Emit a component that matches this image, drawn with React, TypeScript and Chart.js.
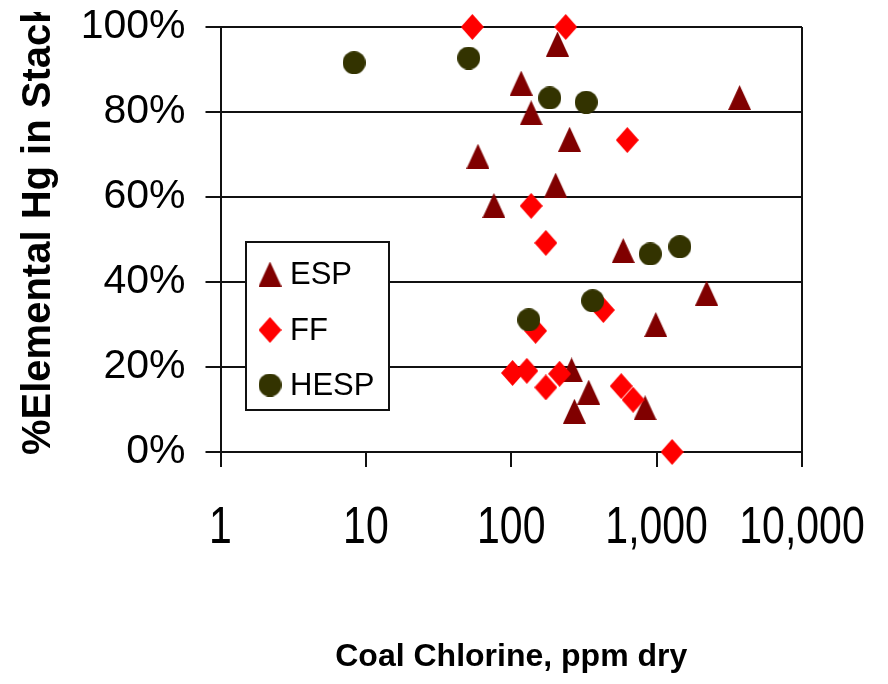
import React, { useEffect, useRef } from "react";
import { Chart, registerables } from "chart.js";

Chart.register(...registerables);

// ---------- data ----------
const seriesNames = ["ESP", "FF", "HESP"];
const seriesColors = ["#800000", "#ff0000", "#333300"];

const espChlorine = [208, 117, 137, 3720, 252, 59, 202, 76, 589, 2208, 987, 260, 341, 833, 272];
const espElemental = [96.0, 86.8, 79.8, 83.4, 73.6, 69.6, 62.8, 58.0, 47.4, 37.4, 30.0, 19.3, 14.1, 10.4, 9.6];

const ffChlorine = [54, 237, 628, 137, 173, 430, 147, 102, 128, 215, 173, 571, 689, 1278];
const ffElemental = [100, 100, 73.4, 57.9, 49.2, 33.4, 28.5, 18.6, 19.1, 18.4, 15.2, 15.5, 12.3, 0];

const hespChlorine = [8.3, 51, 184, 328, 904, 1445, 363, 132];
const hespElemental = [91.6, 92.7, 83.3, 82.3, 46.6, 48.3, 35.6, 31.1];

const xTickValues = [1, 10, 100, 1000, 10000];
const xTickLabels = ["1", "10", "100", "1,000", "10,000"];
const yTickValues = [0, 20, 40, 60, 80, 100];
const yTickLabels = ["0%", "20%", "40%", "60%", "80%", "100%"];

const xTitle = "Coal Chlorine, ppm dry";
const yTitle = "%Elemental Hg in Stack";

// ---------- helpers ----------
function makeMarker(shape: string, color: string, w: number, h: number): HTMLCanvasElement {
  const c = document.createElement("canvas");
  c.width = w;
  c.height = h;
  const g = c.getContext("2d")!;
  g.fillStyle = color;
  g.beginPath();
  if (shape === "triangle") {
    g.moveTo(w / 2, 0);
    g.lineTo(w, h);
    g.lineTo(0, h);
  } else if (shape === "diamond") {
    g.moveTo(w / 2, 0);
    g.lineTo(w, h / 2);
    g.lineTo(w / 2, h);
    g.lineTo(0, h / 2);
  } else {
    g.ellipse(w / 2, h / 2, w / 2, h / 2, 0, 0, Math.PI * 2);
  }
  g.closePath();
  g.fill();
  return c;
}

const BASE_FONT = "'Liberation Sans', Arial, sans-serif";
const X_TICK_SIZE = 41;
const X_TICK_PAD = 41;
const X_TICK_LEN = 15;
const X_LABEL_STRETCH = 1.26;

const pairs = (xs: number[], ys: number[]) => xs.map((x, i) => ({ x, y: ys[i] }));

const legendPlugin = {
  id: "boxLegend",
  afterDatasetsDraw(chart: any) {
    const ctx = chart.ctx as CanvasRenderingContext2D;
    const left = 246, top = 242, w = 143, h = 168;
    ctx.save();
    ctx.fillStyle = "#ffffff";
    ctx.fillRect(left, top, w, h);
    ctx.strokeStyle = "#111";
    ctx.lineWidth = 2;
    ctx.strokeRect(left, top, w, h);
    const rows = [274, 330, 385];
    ctx.font = `31px ${BASE_FONT}`;
    ctx.textBaseline = "middle";
    ctx.textAlign = "left";
    ctx.fillStyle = "#000";
    chart.data.datasets.forEach((ds: any, i: number) => {
      const img = ds.pointStyle as HTMLCanvasElement;
      const cy = rows[i];
      ctx.drawImage(img, 270 - img.width / 2, cy - img.height / 2);
      ctx.fillText(ds.label, 290, cy + 1);
    });
    ctx.restore();
  },
};

const yTitlePlugin = {
  id: "yTitle",
  afterDraw(chart: any) {
    const ctx = chart.ctx as CanvasRenderingContext2D;
    ctx.save();
    ctx.beginPath();
    ctx.rect(0, 12, 200, 684);
    ctx.clip();
    ctx.translate(50, 455);
    ctx.rotate(-Math.PI / 2);
    ctx.font = `bold 40px ${BASE_FONT}`;
    ctx.textAlign = "left";
    ctx.textBaseline = "alphabetic";
    ctx.fillStyle = "#000";
    ctx.fillText(yTitle, 0, 0);
    ctx.restore();
  },
};

export default function App() {
  const ref = useRef<HTMLCanvasElement | null>(null);

  useEffect(() => {
    document.body.style.margin = "0";
    const canvas = ref.current!;
    const markers = [
      makeMarker("triangle", seriesColors[0], 23, 25),
      makeMarker("diamond", seriesColors[1], 23, 26),
      makeMarker("circle", seriesColors[2], 23, 23),
    ];

    const chart = new Chart(canvas, {
      type: "scatter",
      data: {
        datasets: [
          { label: seriesNames[0], data: pairs(espChlorine, espElemental), pointStyle: markers[0] as any, backgroundColor: seriesColors[0], order: 2, clip: false as any },
          { label: seriesNames[1], data: pairs(ffChlorine, ffElemental), pointStyle: markers[1] as any, backgroundColor: seriesColors[1], order: 1, clip: false as any },
          { label: seriesNames[2], data: pairs(hespChlorine, hespElemental), pointStyle: markers[2] as any, backgroundColor: seriesColors[2], order: 0, clip: false as any },
        ],
      },
      options: {
        animation: false,
        responsive: false,
        events: [],
        layout: { padding: { top: 27, right: 86, left: 0, bottom: 0 } },
        plugins: {
          legend: { display: false },
          tooltip: { enabled: false },
        },
        scales: {
          x: {
            type: "logarithmic",
            min: 1,
            max: 10000,
            afterBuildTicks(scale: any) {
              scale.ticks = xTickValues.map((v) => ({ value: v }));
            },
            afterFit(scale: any) {
              scale.height = 232;
              scale.paddingLeft = 0;
              scale.paddingRight = 0;
              scale.paddingTop = 0;
              scale.paddingBottom = 0;
              if (!scale.__stretched) {
                scale.__stretched = true;
                const orig = scale.drawLabels;
                scale.drawLabels = function (area: any) {
                  const ctx = this.ctx as CanvasRenderingContext2D;
                  const cy = this.top + X_TICK_LEN + X_TICK_PAD + X_TICK_SIZE / 2;
                  ctx.save();
                  ctx.translate(0, cy);
                  ctx.scale(1, X_LABEL_STRETCH);
                  ctx.translate(0, -cy);
                  orig.call(this, area);
                  ctx.restore();
                };
              }
            },
            ticks: {
              autoSkip: false,
              maxRotation: 0,
              minRotation: 0,
              padding: X_TICK_PAD,
              color: "#000",
              font: { family: BASE_FONT, size: X_TICK_SIZE, lineHeight: 1 },
              callback: (_v: any, i: number) => xTickLabels[i],
            },
            grid: {
              drawOnChartArea: true,
              color: (c: any) => (c.tick && c.tick.value === 10000 ? "#111" : "rgba(0,0,0,0)"),
              tickColor: "#111",
              tickLength: X_TICK_LEN,
              lineWidth: 2,
            },
            border: { display: true, color: "#111", width: 2 },
            title: {
              display: true,
              text: xTitle,
              color: "#000",
              font: { family: BASE_FONT, size: 32, weight: "bold", lineHeight: 1.2 },
              padding: { top: 0, bottom: 8 },
            },
          },
          y: {
            type: "linear",
            min: 0,
            max: 100,
            afterBuildTicks(scale: any) {
              scale.ticks = yTickValues.map((v) => ({ value: v }));
            },
            afterFit(scale: any) {
              scale.width = 220.5;
              scale.paddingLeft = 0;
              scale.paddingRight = 0;
              scale.paddingTop = 0;
              scale.paddingBottom = 0;
            },
            ticks: {
              padding: 20,
              color: "#000",
              font: { family: BASE_FONT, size: 41, lineHeight: 1 },
              callback: (_v: any, i: number) => yTickLabels[i],
            },
            grid: {
              color: "#111",
              tickColor: "#111",
              tickLength: 15,
              lineWidth: 2,
            },
            border: { display: true, color: "#111", width: 2 },
          },
        },
      },
      plugins: [legendPlugin, yTitlePlugin],
    });

    return () => chart.destroy();
  }, []);

  return (
    <div style={{ position: "absolute", left: 0, top: 0, width: 888, height: 684, background: "#fff" }}>
      <canvas ref={ref} width={888} height={684} style={{ display: "block" }} />
    </div>
  );
}
